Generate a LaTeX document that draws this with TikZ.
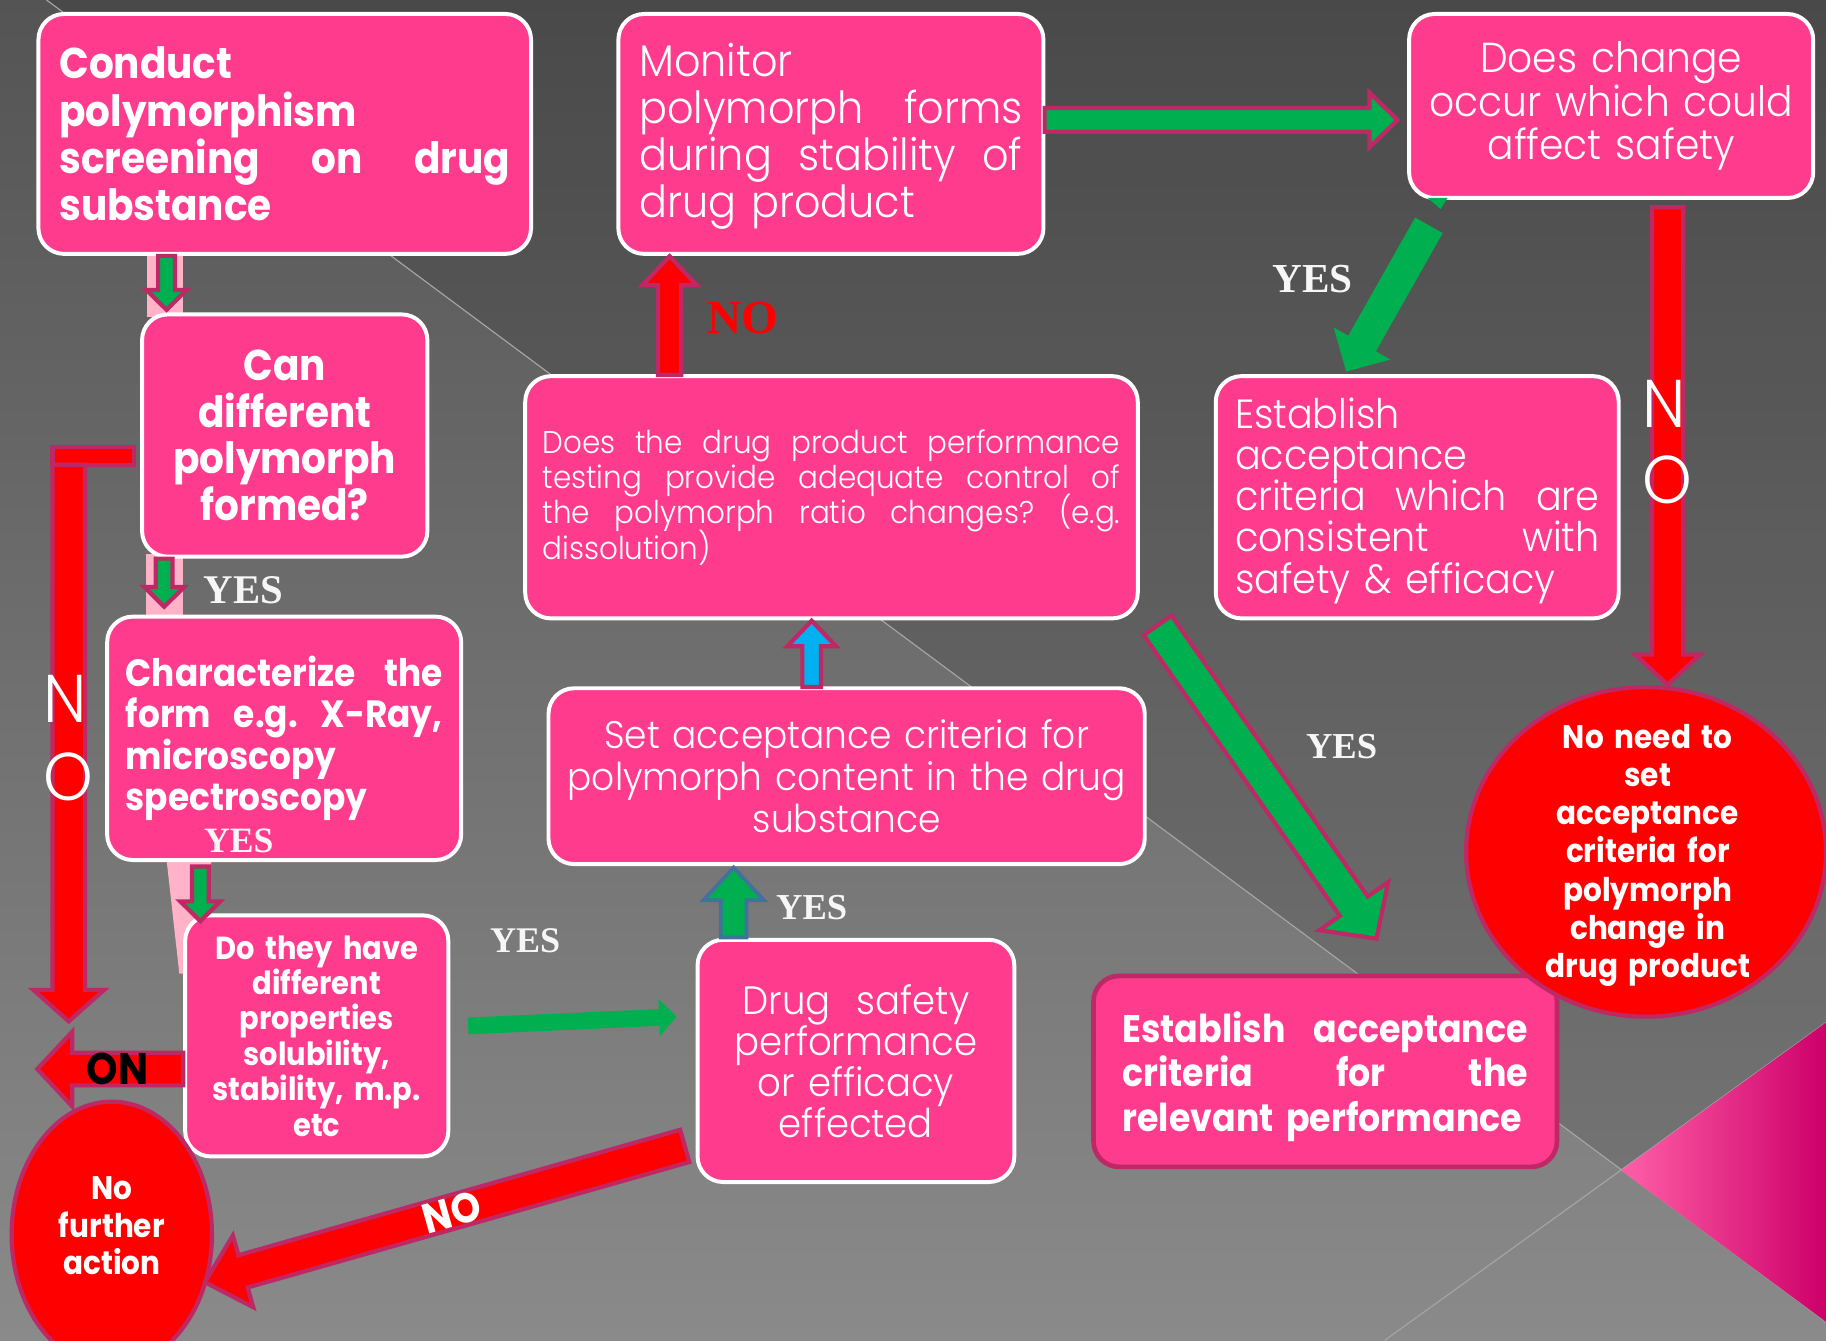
\documentclass[tikz,border=0pt]{standalone}
\usepackage{fontspec}
\setmainfont{Poppins}[BoldFeatures={FakeStretch=0.905}]
\newfontfamily\thinfont{Poppins Light}[FakeStretch=0.935]
\newfontfamily\timesfont{Liberation Serif}
\usetikzlibrary{calc,shapes.geometric}

\definecolor{boxpink}{RGB}{255,59,141}
\definecolor{edgemag}{RGB}{190,40,100}
\definecolor{arrgreen}{RGB}{0,176,80}
\definecolor{arrred}{RGB}{255,0,0}
\definecolor{arrblue}{RGB}{0,176,240}
\definecolor{steel}{RGB}{65,113,156}
\definecolor{palepink}{RGB}{255,178,200}
\definecolor{bgtop}{RGB}{84,84,84}
\definecolor{bgbottom}{RGB}{138,138,138}
\definecolor{bgline}{RGB}{165,165,165}
\definecolor{labelwhite}{RGB}{246,246,246}
\definecolor{triA}{RGB}{255,95,168}
\definecolor{triB}{RGB}{255,8,130}
\definecolor{triC}{RGB}{205,0,105}

% size, line spacing, and no extra glue between tall lines
\newcommand\setfs[2]{\fontsize{#1}{#2}\selectfont\lineskiplimit=-20pt\lineskip=0pt\hyphenpenalty=10000\exhyphenpenalty=10000\relax}

\tikzset{
  box/.style={draw=white, line width=1.7pt, fill=boxpink, rounded corners=11pt,
    text=white, inner sep=0pt},
  boxtext/.style={text=white, inner sep=0pt},
  disc/.style={ellipse, draw=edgemag, fill=arrred, line width=1.8pt, inner sep=0pt},
  magarrow/.style={draw=edgemag, line width=1.8pt, line join=miter, miter limit=10},
  steelarrow/.style={draw=steel, line width=1.6pt, line join=miter, miter limit=10},
  yeslabel/.style={text=labelwhite, inner sep=0pt, font=\timesfont\bfseries\setfs{#1}{#1}},
  bigletter/.style={text=white, inner sep=0pt, font=\thinfont\setfs{29}{29}},
  % block arrow between two points: shaft half width, head half width, head length
  barrow/.style n args={3}{to path={
    ($(\tikztostart)!#1!90:(\tikztotarget)$)
    -- ($(\tikztotarget)!#3!(\tikztostart)!#1!90:(\tikztotarget)$)
    -- ($(\tikztotarget)!#3!(\tikztostart)!#2!90:(\tikztotarget)$)
    -- (\tikztotarget)
    -- ($(\tikztotarget)!#3!(\tikztostart)!#2!-90:(\tikztotarget)$)
    -- ($(\tikztotarget)!#3!(\tikztostart)!#1!-90:(\tikztotarget)$)
    -- ($(\tikztostart)!#1!-90:(\tikztotarget)$)
    -- cycle}},
}

\begin{document}
\begin{tikzpicture}[x=0.5pt, y=-0.5pt]
\useasboundingbox (0,0) rectangle (1568,1151);
\clip (0,0) rectangle (1568,1151);

% backdrop
\shade[top color=bgtop, bottom color=bgbottom] (0,0) rectangle (1568,1151);
\fill[black, opacity=0.12] (40,0) -- (1568,1135) -- (1568,0) -- cycle;
\draw[bgline, line width=0.5pt] (40,0) -- (1568,1135);
\draw[bgline, line width=0.5pt] (1189,1151) -- (1568,878);
\shade[left color=triA, middle color=triB, right color=triC]
  (1392,1005) -- (1568,878) -- (1568,1135) -- cycle;

% pale guides behind the small arrows
\fill[palepink] (126,216) rectangle (157,272);
\fill[palepink] (125,476) rectangle (157,530);
\fill[palepink] (143,738) -- (182,738) -- (160,836) -- (154,836) -- cycle;

% process boxes
\node[box, minimum width=211.5pt, minimum height=103pt, text width=193.5pt, align=left,
  font=\bfseries\setfs{18.5}{20.3}] (conduct) at (244.5,115)
  {Conduct\\polymorphism\\screening\hfill on\hfill drug\\substance};
\node[box, minimum width=182.5pt, minimum height=103pt] (monitor) at (713.5,115) {};
\node[boxtext, text width=164.5pt, align=left, font=\thinfont\setfs{19}{20.2}]
  (monitortext) at ($(monitor.center)+(0,2)$)
  {Monitor\\polymorph\hfill forms\\during\hfill stability\hfill of\\drug product};
\node[box, minimum width=173.5pt, minimum height=79pt, text width=170pt, align=center,
  font=\thinfont\setfs{18}{18.7}] (change) at (1383.5,91)
  {Does change\\occur which could\\affect safety};
\node[box, minimum width=122.5pt, minimum height=104pt, text width=118pt, align=center,
  font=\bfseries\setfs{18.5}{20}] (can) at (244.5,374)
  {Can\\different\\polymorph\\formed?};
\node[box, minimum width=263pt, minimum height=104pt, text width=248pt, align=left,
  font=\thinfont\setfs{13.5}{15.15}] (perf) at (714,427)
  {Does\hfill the\hfill drug\hfill product\hfill performance\\testing\hfill provide\hfill adequate\hfill control\hfill of\\the\hfill polymorph\hfill ratio\hfill changes?\hfill (e.g.\\dissolution)};
\node[box, minimum width=173pt, minimum height=104pt] (estA) at (1217,427) {};
\node[boxtext, text width=156.5pt, align=left, font=\thinfont\setfs{17.5}{17.65}]
  (estAtext) at ($(estA.center)+(0,3)$)
  {Establish\\acceptance\\criteria\hfill which\hfill are\\consistent\hfill with\\safety \& efficacy};
\node[box, minimum width=152pt, minimum height=104.5pt, text width=136pt, align=left,
  font=\bfseries\setfs{16.3}{17.85}] (char) at (244,634)
  {Characterize\hfill the\\form\hfill e.g.\hfill X-Ray,\\microscopy\\spectroscopy};
\node[box, minimum width=256pt, minimum height=75.5pt, text width=250pt, align=center,
  font=\thinfont\setfs{16.5}{18}] (setac) at (727,666.5)
  {Set acceptance criteria for\\polymorph content in the drug\\substance};
\node[box, minimum width=113pt, minimum height=103.5pt, text width=110pt, align=center,
  font=\bfseries\setfs{13.7}{15.2}] (props) at (272,889.5)
  {Do they have\\different\\properties\\solubility,\\stability, m.p.\\etc};
\node[box, minimum width=136pt, minimum height=104pt, text width=130pt, align=center,
  font=\thinfont\setfs{17}{17.65}] (safety) at (735,911)
  {Drug\ \ safety\\performance\\or efficacy\\effected};
\node[box, draw=edgemag, line width=2pt, minimum width=199pt, minimum height=82pt] (estB) at (1138,920) {};
\node[boxtext, text width=174pt, align=left, font=\bfseries\setfs{16.5}{19}]
  (estBtext) at ($(estB.center)+(0,4.5)$)
  {Establish\hfill acceptance\\criteria\hfill for\hfill the\\relevant performance};

% end points
\node[disc, minimum width=154.5pt, minimum height=141.5pt] (noneed) at (1413.5,731.5) {};
\node[boxtext, text width=150pt, align=center,
  font=\bfseries\setfs{14}{16.35}] (noneedtext) at (1415,734.5)
  {No need to\\set\\acceptance\\criteria for\\polymorph\\change in\\drug product};
\node[disc, minimum width=86pt, minimum height=114pt] (nofurther) at (96,1060) {};
\node[boxtext, text width=80pt, align=center,
  font=\bfseries\setfs{14}{16.3}] (nofurthertext) at (96,1052.5)
  {No\\further\\action};

% arrow end points
\coordinate (aAs) at (143,0 |- conduct.south);
\coordinate (aAe) at (143,266);
\coordinate (aBs) at (141,0 |- can.south);
\coordinate (aBe) at (141,521);
\coordinate (aCs) at (172,744);
\coordinate (aCe) at (172,791);
\coordinate (aDs) at (59,399);
\coordinate (aDe) at (59,877);
\coordinate (aEs) at (props.west |- 0,918);
\coordinate (aEe) at (32,918);
\coordinate (aFs) at (588,984);
\coordinate (aFe) at (176,1101);
\coordinate (aGs) at (402,881);
\coordinate (aGe) at (581,873);
\coordinate (aHs) at (630,805);
\coordinate (aHe) at (630,745);
\coordinate (aIs) at (697,590);
\coordinate (aIe) at (697,533);
\coordinate (aJs) at (575,322);
\coordinate (aJe) at (575,220);
\coordinate (aKs) at (897,103);
\coordinate (aKe) at (1200,103);
\coordinate (aLs) at (1227,193.5);
\coordinate (aLe) at (1156,319);
\coordinate (aMs) at (1432,178);
\coordinate (aMe) at (1432,588);
\coordinate (aNs) at (994,537);
\coordinate (aNe) at (1182,806);

% connectors
\path[magarrow, fill=arrgreen] (aAs) to[barrow={3.6pt}{8.6pt}{8.5pt}] (aAe);
\path[magarrow, fill=arrgreen] (aBs) to[barrow={3.6pt}{8.6pt}{8.5pt}] (aBe);
\path[magarrow, fill=arrgreen] (aCs) to[barrow={3.6pt}{8.6pt}{8.5pt}] (aCe);
\draw[magarrow, fill=arrred] (45,383.5) rectangle (115,399);
\path[magarrow, fill=arrred] (aDs) to[barrow={7pt}{15.2pt}{13.5pt}] (aDe);
\path[magarrow, fill=arrred] (aEs) to[barrow={7pt}{16pt}{15pt}] (aEe);
\path[magarrow, fill=arrred] (aFs) to[barrow={7.2pt}{16pt}{17pt}] (aFe);
\path[fill=arrgreen] (aGs) to[barrow={3.6pt}{8pt}{7.5pt}] (aGe);
\path[steelarrow, fill=arrgreen] (aHs) to[barrow={5.5pt}{13pt}{14pt}] (aHe);
\path[magarrow, fill=arrblue] (aIs) to[barrow={4pt}{10.5pt}{11pt}] (aIe);
\path[magarrow, fill=arrred] (aJs) to[barrow={5pt}{11.7pt}{12.5pt}] (aJe);
\path[magarrow, fill=arrgreen] (aKs) to[barrow={5.1pt}{11.7pt}{12pt}] (aKe);
\fill[arrgreen] (1226,170) -- (1243,170) -- (1237,179.5) -- cycle;
\path[fill=arrgreen] (aLs) to[barrow={6.8pt}{14pt}{13.8pt}] (aLe);
\path[magarrow, fill=arrred] (aMs) to[barrow={6.7pt}{14pt}{13pt}] (aMe);
\path[magarrow, fill=arrgreen] (aNs) to[barrow={7.3pt}{18pt}{17pt}] (aNe);

% branch labels
\node[yeslabel=17.5] (yesB) at (209,507) {YES};
\node[yeslabel=15.3] (yesC) at (205,722) {YES};
\node[yeslabel=15.5] (yesG) at (451,808) {YES};
\node[yeslabel=15.7] (yesH) at (697,779) {YES};
\node[yeslabel=17.7] (yesL) at (1127,240) {YES};
\node[yeslabel=15.7] (yesN) at (1152,641) {YES};
\node[yeslabel=20.3, text=arrred] (noJ) at (638,273) {NO};
\node[bigletter] (nLeft) at (56,600) {N};
\node[bigletter] (oLeft) at (59,667) {O};
\node[bigletter] (nRight) at (1429,347) {N};
\node[bigletter] (oRight) at (1432,412) {O};
\node[text=black, inner sep=0pt, font=\bfseries\setfs{19}{19}] (onLabel) at (101,918) {ON};
\node[text=white, inner sep=0pt, rotate=15.8, font=\bfseries\setfs{18}{18}] (noF) at (388,1041) {NO};
\end{tikzpicture}
\end{document}
